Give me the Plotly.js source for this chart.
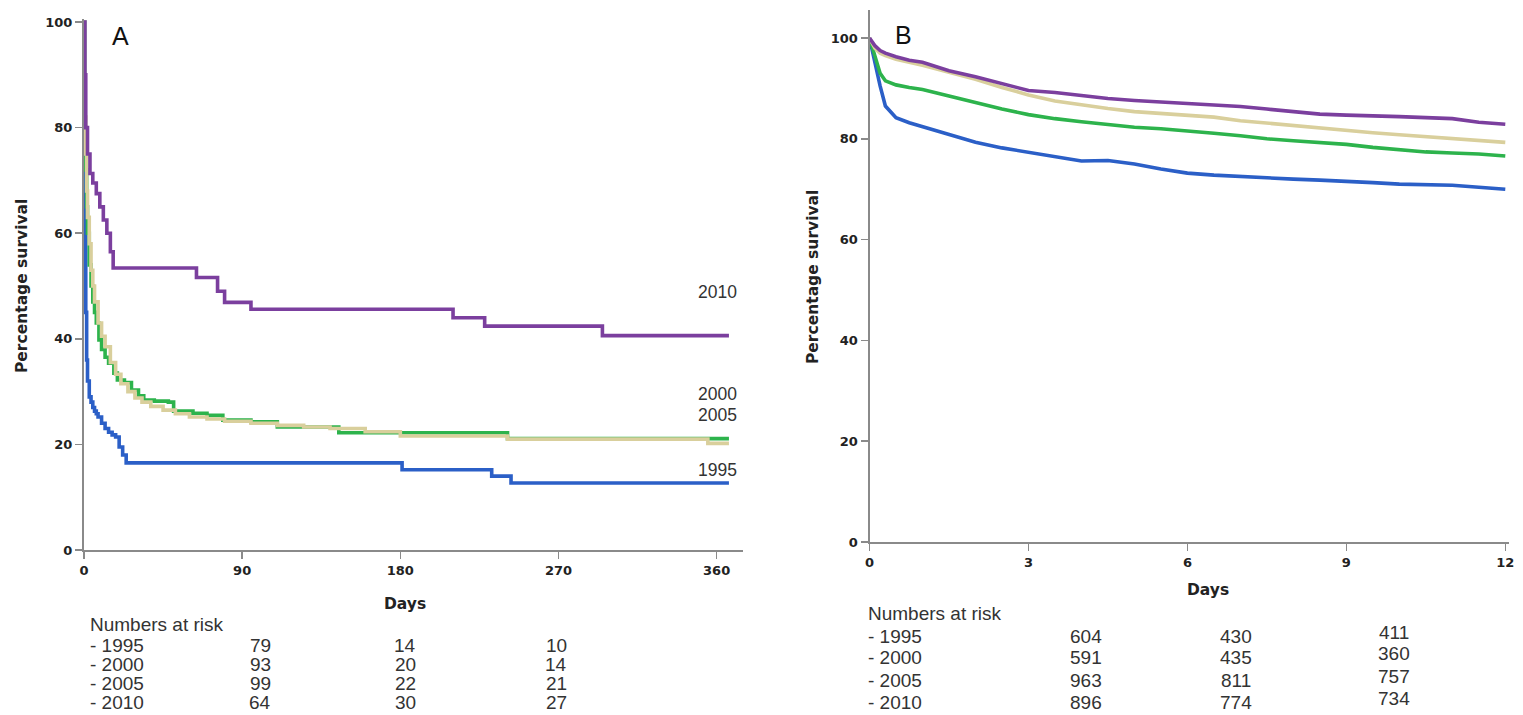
<!DOCTYPE html>
<html>
<head>
<meta charset="utf-8">
<script src="https://cdn.plot.ly/plotly-3.0.1.min.js"></script>
<style>html,body{margin:0;padding:0;background:#fff;}#chart{width:1523px;height:715px;}</style>
</head>
<body>
<div id="chart"></div>
<script>
// ---------- Panel A (days 0-365, Kaplan-Meier steps) ----------
const a1995Days = [0, 0.3, 0.6, 1, 1.5, 2, 3, 4, 5, 6, 7, 8, 10, 12, 14, 16, 18, 20, 22, 24, 181, 232, 243, 367];
const a1995Surv = [100, 80, 60, 45, 36, 32, 29, 28, 27, 26.3, 25.8, 25.2, 24, 23, 22.3, 21.8, 21.4, 19.5, 18, 16.5, 15.2, 14, 12.7, 12.7];

const a2000Days = [0, 0.3, 0.6, 1, 1.5, 2, 3, 4, 5, 6, 8, 10, 12, 15, 18, 21, 25, 29, 33, 38, 45, 52, 60, 70, 80, 95, 110, 125, 140, 160, 180, 241, 355, 367];
const a2000Surv = [100, 90, 82, 75, 68, 63, 58, 53, 50, 47, 43, 40.5, 38.5, 35.5, 33.3, 31.5, 30, 28.8, 28, 27.2, 26.5, 25.8, 25.2, 24.8, 24.4, 24, 23.6, 23.3, 23, 22.4, 21.6, 21, 20.2, 20.2];

const a2005Days = [0, 0.3, 0.6, 1, 1.5, 2, 3, 4, 5, 6, 7, 8.5, 10, 12, 14, 17, 19, 23, 27, 31, 34, 40, 48, 51, 62, 70, 79, 95, 110, 145, 241, 367];
const a2005Surv = [100, 90, 80, 72, 65, 60, 54, 50, 47, 45, 43, 39.8, 38, 36.5, 35.4, 33.5, 32.2, 31.7, 30.3, 29.2, 28.4, 28.2, 28, 26.3, 25.9, 25.5, 24.6, 24.3, 23.3, 22.2, 21.1, 21.1];

const a2010Days = [0, 0.5, 1, 2, 3.4, 5, 7, 9, 11, 13, 15, 16.6, 64, 76, 80, 95, 210, 228, 295, 367];
const a2010Surv = [100, 90, 80, 75, 71.3, 69.5, 67.5, 65, 62.5, 60, 56.5, 53.4, 51.6, 49, 46.9, 45.6, 44, 42.4, 40.6, 40.6];

// ---------- Panel B (0-12) ----------
const bDays = [0, 0.1, 0.2, 0.3, 0.5, 0.75, 1, 1.5, 2, 2.5, 3, 3.5, 4, 4.5, 5, 5.5, 6, 6.5, 7, 7.5, 8, 8.5, 9, 9.5, 10, 10.5, 11, 11.5, 12];
const b1995Surv = [100, 95, 90.5, 86.5, 84.2, 83.2, 82.4, 80.8, 79.3, 78.2, 77.3, 76.5, 75.6, 75.7, 75, 74, 73.2, 72.8, 72.5, 72.2, 72, 71.8, 71.6, 71.3, 71, 70.9, 70.8, 70.4, 70];
const b2000Surv = [100, 98, 97, 96.5, 95.8, 95.2, 94.6, 93.2, 91.8, 90.2, 88.7, 87.5, 86.7, 86, 85.4, 85, 84.7, 84.3, 83.6, 83.1, 82.6, 82.1, 81.6, 81.2, 80.8, 80.4, 80, 79.6, 79.3];
const b2005Surv = [100, 96.5, 93, 91.5, 90.7, 90.2, 89.8, 88.5, 87.2, 85.9, 84.8, 84, 83.4, 82.8, 82.3, 82, 81.6, 81.1, 80.6, 80, 79.6, 79.2, 78.9, 78.3, 77.8, 77.4, 77.2, 77, 76.6];
const b2010Surv = [100, 98.5, 97.5, 97, 96.3, 95.6, 95.2, 93.5, 92.3, 91, 89.6, 89.2, 88.6, 88, 87.6, 87.3, 87, 86.7, 86.4, 85.9, 85.4, 84.9, 84.7, 84.6, 84.4, 84.2, 84, 83.3, 82.9];

// ---------- Ticks / labels ----------
const aTicks = [0, 90, 180, 270, 360];
const bTicks = [0, 3, 6, 9, 12];
const yTicks = [0, 20, 40, 60, 80, 100];
const seriesNames = ['1995', '2000', '2005', '2010'];
const seriesColors = ['#2b5fc7', '#d9cf9c', '#2db34c', '#7b3f9e'];

// Numbers at risk
const riskYears = ['1995', '2000', '2005', '2010'];
const riskA = [[79, 14, 10], [93, 20, 14], [99, 22, 21], [64, 30, 27]];
const riskB = [[604, 430, 411], [591, 435, 360], [963, 811, 757], [896, 774, 734]];

// label positions (data coords) at line ends
const aLabelY = {'2010': 48.9, '2000': 29.5, '2005': 25.6, '1995': 15.2};
const bLabelY = {'2010': 85.1, '2000': 79.8, '2005': 74.2, '1995': 67.9};

// ---------- Build ----------
const W = 1523, H = 715;
const px = v => v / W;
const py = v => (H - v) / H;

const lw = 3.6;
const traces = [];
const aData = {'1995': [a1995Days, a1995Surv], '2000': [a2000Days, a2000Surv], '2005': [a2005Days, a2005Surv], '2010': [a2010Days, a2010Surv]};
const bData = {'1995': b1995Surv, '2000': b2000Surv, '2005': b2005Surv, '2010': b2010Surv};
const order = ['1995', '2005', '2000', '2010'];
order.forEach(n => {
  const c = seriesColors[seriesNames.indexOf(n)];
  traces.push({x: aData[n][0], y: aData[n][1], type: 'scatter', mode: 'lines', line: {color: c, width: lw, shape: 'hv'}, xaxis: 'x', yaxis: 'y', name: n, showlegend: false, hoverinfo: 'skip'});
});
order.forEach(n => {
  const c = seriesColors[seriesNames.indexOf(n)];
  traces.push({x: bDays, y: bData[n], type: 'scatter', mode: 'lines', line: {color: c, width: lw}, xaxis: 'x2', yaxis: 'y2', name: n, showlegend: false, hoverinfo: 'skip'});
});

const tickFont = {family: 'DejaVu Sans, Arial, sans-serif', size: 13, color: '#222', weight: 'bold'};
const axCommon = {
  showline: true, linecolor: '#8a8a8a', linewidth: 2, ticks: 'outside', ticklen: 7, tickwidth: 1.5,
  tickcolor: '#8a8a8a', showgrid: false, zeroline: false, tickfont: tickFont, fixedrange: true
};

const ann = [];
function addText(text, x, y, font, extra) {
  ann.push(Object.assign({text: text, xref: 'paper', yref: 'paper', x: px(x), y: py(y),
    xanchor: 'center', yanchor: 'middle', showarrow: false, font: font}, extra || {}));
}
const txtFont = {family: 'Liberation Sans, Arial, sans-serif', size: 19, color: '#333'};
const letterFont = {family: 'Liberation Sans, Arial', size: 25, color: '#111'};
addText('A', 120, 36, letterFont);
addText('B', 904, 35, letterFont);
const titleFont = {family: 'DejaVu Sans, Arial, sans-serif', size: 15.5, color: '#222', weight: 'bold'};
addText('Percentage survival', 22, 286, titleFont, {textangle: -90});
addText('Percentage survival', 813, 277, titleFont, {textangle: -90});
addText('Days', 405, 604, titleFont);
addText('Days', 1208, 590, titleFont);
// line-end labels
seriesNames.forEach(n => {
  ann.push({text: n, xref: 'x', yref: 'y', x: 373, y: aLabelY[n], xanchor: 'right', yanchor: 'middle', showarrow: false, font: {family: 'Liberation Sans, Arial', size: 17.5, color: '#333'}});
  ann.push({text: n, xref: 'x2', yref: 'y2', x: 12.09, y: bLabelY[n], xanchor: 'right', yanchor: 'middle', showarrow: false, font: {family: 'Liberation Sans, Arial', size: 16.5, color: '#333'}});
});
// Numbers at risk tables
addText('Numbers at risk', 88, 624, txtFont, {xanchor: 'left'});
addText('Numbers at risk', 866, 613, txtFont, {xanchor: 'left'});
const aRowY = [645, 664, 683, 702];
const aColX = [260, 405, 556];
const bRowY = [636, 657, 680, 702];
const bColX = [1086, 1236, 1394];
const bColDy = [0, 0, -4];
riskYears.forEach((yr, i) => {
  addText('- ' + yr, 88, aRowY[i], txtFont, {xanchor: 'left'});
  addText('- ' + yr, 866, bRowY[i], txtFont, {xanchor: 'left'});
  riskA[i].forEach((v, j) => addText(String(v), aColX[j], aRowY[i], txtFont));
  riskB[i].forEach((v, j) => addText(String(v), bColX[j], bRowY[i] + bColDy[j], txtFont));
});

const layout = {
  width: W, height: H,
  margin: {l: 0, r: 0, t: 0, b: 0},
  paper_bgcolor: '#fff', plot_bgcolor: '#fff',
  showlegend: false,
  xaxis: Object.assign({}, axCommon, {domain: [px(84), px(743)], range: [0, 375], tickvals: aTicks, anchor: 'y'}),
  yaxis: Object.assign({}, axCommon, {domain: [py(550), py(19.4)], range: [0, 100.5], tickvals: yTicks, anchor: 'x'}),
  xaxis2: Object.assign({}, axCommon, {domain: [px(869.5), px(1509)], range: [0, 12.07], tickvals: bTicks, anchor: 'y2'}),
  yaxis2: Object.assign({}, axCommon, {domain: [py(542), py(10.3)], range: [0, 105.5], tickvals: yTicks, anchor: 'x2'}),
  annotations: ann
};

Plotly.newPlot('chart', traces, layout, {displayModeBar: false, staticPlot: true});
</script>
</body>
</html>
